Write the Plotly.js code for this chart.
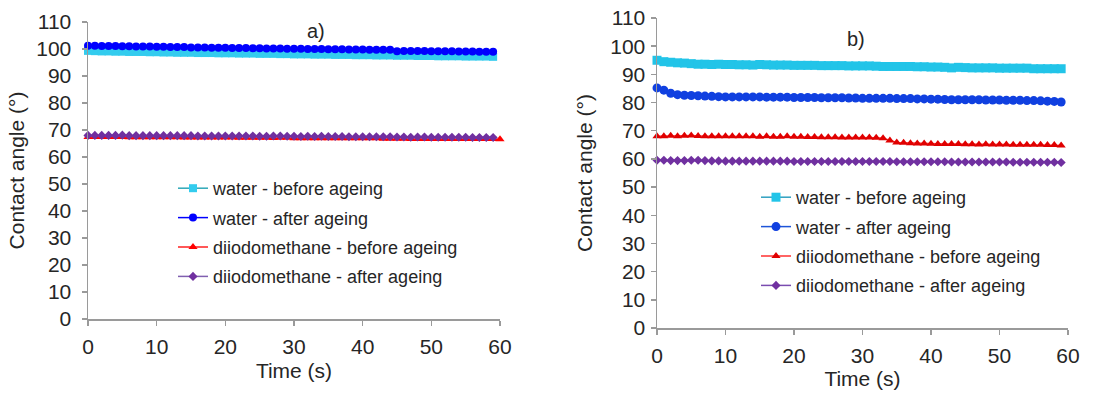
<!DOCTYPE html>
<html>
<head>
<meta charset="utf-8">
<script src="https://cdn.plot.ly/plotly-3.0.1.min.js"></script>
<style>html,body{margin:0;padding:0;background:#fff;}#chart{width:1120px;height:394px;}</style>
</head>
<body>
<div id="chart"></div>
<script>
// ---- data ----
const seriesNames = ["water - before ageing", "water - after ageing", "diiodomethane - before ageing", "diiodomethane - after ageing"];
const panelLabels = ["a)", "b)"];
const xTitle = "Time (s)";
const yTitle = "Contact angle (°)";
const xTicks = [0, 10, 20, 30, 40, 50, 60];
const yTicks = [0, 10, 20, 30, 40, 50, 60, 70, 80, 90, 100, 110];

const time60 = [0,1,2,3,4,5,6,7,8,9,10,11,12,13,14,15,16,17,18,19,20,21,22,23,24,25,26,27,28,29,30,31,32,33,34,35,36,37,38,39,40,41,42,43,44,45,46,47,48,49,50,51,52,53,54,55,56,57,58,59];
const time61 = [0,1,2,3,4,5,6,7,8,9,10,11,12,13,14,15,16,17,18,19,20,21,22,23,24,25,26,27,28,29,30,31,32,33,34,35,36,37,38,39,40,41,42,43,44,45,46,47,48,49,50,51,52,53,54,55,56,57,58,59,60];

// Panel a
const aWaterBefore = [99.3,99.2,99.1,99.1,99.0,99.0, 98.9,98.9,98.9,98.8,98.8,98.7, 98.7,98.6,98.6,98.6,98.5,98.5, 98.5,98.4,98.4,98.4,98.3,98.3, 98.3,98.2,98.2,98.2,98.1,98.1, 98.0,98.0,98.0,97.9,97.9,97.9, 97.8,97.8,97.8,97.7,97.7,97.7, 97.6,97.6,97.6,97.5,97.5,97.5, 97.4,97.4,97.4,97.3,97.3,97.3, 97.3,97.2,97.2,97.2,97.2,97.1];
const aWaterAfter = [101.2,101.2,101.1,101.1,101.1,101.0, 101.0,100.9,100.9,100.9,100.8,100.8, 100.7,100.7,100.7,100.6,100.6,100.6, 100.5,100.5,100.5,100.4,100.4,100.4, 100.3,100.3,100.2,100.2,100.2,100.1, 100.1,100.1,100.0,100.0,100.0,99.9, 99.9,99.9,99.8,99.8,99.8,99.7, 99.7,99.7,99.7,99.2,99.3,99.3, 99.3,99.3,99.2,99.2,99.2,99.2, 99.1,99.1,99.1,99.0,99.0,99.0];
const aDiioBefore = [67.4,67.4,67.4,67.4,67.4,67.4,67.3,67.3,67.3,67.3, 67.3,67.3,67.3,67.3,67.2,67.2,67.2,67.2,67.2,67.2, 67.2,67.2,67.1,67.1,67.1,67.1,67.1,67.0,67.1,67.1, 66.9,66.9,66.9,66.9,66.9,66.9,66.9,66.9,66.9,66.9, 66.9,66.9,66.9,66.8,66.8,66.8,66.8,66.7,66.7,66.7, 66.7,66.7,66.7,66.7,66.7,66.7,66.7,66.7,66.7,66.7,66.6];
const aDiioAfter = [68.0,68.0,68.0,68.0,68.0,68.1,67.9,67.9,67.9,67.9, 67.9,67.9,67.9,67.9,67.9,67.9,67.8,67.8,67.8,67.8, 67.8,67.8,67.8,67.8,67.8,67.7,67.7,67.8,67.8,67.7, 67.7,67.6,67.7,67.6,67.7,67.6,67.6,67.6,67.5,67.5, 67.5,67.5,67.5,67.5,67.5,67.4,67.4,67.3,67.4,67.4, 67.3,67.3,67.3,67.3,67.3,67.3,67.2,67.2,67.2,67.2];

// Panel b
const bWaterBefore = [95.0,94.5,94.3,94.1,94.0,93.8,93.6,93.6,93.5,93.6, 93.5,93.5,93.4,93.4,93.3,93.5,93.4,93.3,93.3,93.3, 93.2,93.2,93.2,93.2,93.1,93.1,93.1,93.1,93.0,93.0, 93.0,93.0,92.9,92.8,92.8,92.8,92.8,92.8,92.7,92.7, 92.6,92.6,92.5,92.3,92.5,92.4,92.3,92.3,92.3,92.3, 92.2,92.2,92.2,92.2,92.2,92.0,92.0,92.0,92.0,92.0];
const bWaterAfter = [85.2,84.4,83.3,82.8,82.6,82.5,82.4,82.3,82.2,82.1, 82.0,82.0,82.0,82.0,82.0,82.0,81.9,81.9,81.9,81.9, 81.8,81.8,81.8,81.8,81.7,81.7,81.7,81.7,81.6,81.6, 81.5,81.5,81.5,81.5,81.5,81.4,81.4,81.4,81.3,81.3, 81.2,81.2,81.1,81.0,81.0,81.0,81.0,81.0,80.9,80.9, 80.9,80.8,80.8,80.8,80.7,80.7,80.6,80.5,80.4,80.2];
const bDiioBefore = [68.0,68.0,68.2,68.0,68.2,68.3,68.1,68.0,68.0,68.0, 68.0,68.0,68.0,68.0,68.0,67.9,68.0,67.9,67.9,68.0, 67.9,67.9,67.8,67.8,67.7,67.7,67.7,67.6,67.6,67.6, 67.6,67.6,67.5,67.3,66.5,65.8,65.7,65.6,65.5,65.5, 65.4,65.3,65.3,65.3,65.3,65.2,65.2,65.1,65.2,65.1, 65.1,65.1,65.0,65.0,65.0,65.0,65.0,64.9,64.9,64.8];
const bDiioAfter = [59.5,59.5,59.4,59.4,59.4,59.5,59.5,59.4,59.3,59.3, 59.2,59.2,59.2,59.2,59.2,59.2,59.2,59.2,59.2,59.2, 59.1,59.1,59.1,59.1,59.1,59.1,59.1,59.1,59.1,59.1, 59.1,59.1,59.1,59.1,59.1,59.0,59.0,59.0,59.0,59.0, 59.0,59.0,59.0,58.9,58.9,58.9,58.9,58.9,58.9,58.9, 58.9,58.9,58.8,58.8,58.8,58.8,58.8,58.8,58.8,58.7];

// ---- styles ----
const FONT = "Liberation Sans, Arial, sans-serif";
const TXT = "#262626";
const W = 1120, H = 394;
function px(x){ return x / W; }
function py(y){ return 1 - y / H; }

const stylesA = [
  {line:"#2fa8b8", marker:"#33ccee", symbol:"square", size:8},
  {line:"#0000ff", marker:"#0000ff", symbol:"circle", size:8},
  {line:"#ff2020", marker:"#ff0000", symbol:"triangle-up", size:8},
  {line:"#8060b0", marker:"#7030a0", symbol:"diamond", size:7}
];
const stylesB = [
  {line:"#30a0c0", marker:"#22c4e8", symbol:"square", size:9},
  {line:"#1e55d8", marker:"#1040e0", symbol:"circle", size:9},
  {line:"#ff3030", marker:"#e00000", symbol:"triangle-up", size:8},
  {line:"#7a4cb0", marker:"#7030a0", symbol:"diamond", size:7}
];

function mk(x, y, i, st, xa, ya, leg){
  return {
    x: x, y: y, name: seriesNames[i], type: "scatter", mode: "lines+markers",
    xaxis: xa, yaxis: ya, legend: leg, legendgroup: leg + i,
    line: {color: st.line, width: 1.5},
    marker: {color: st.marker, symbol: st.symbol, size: st.size, line: {width: 0}},
    cliponaxis: false
  };
}

const traces = [
  mk(time60, aWaterBefore, 0, stylesA[0], "x", "y", "legend"),
  mk(time60, aWaterAfter, 1, stylesA[1], "x", "y", "legend"),
  mk(time61, aDiioBefore, 2, stylesA[2], "x", "y", "legend"),
  mk(time60, aDiioAfter, 3, stylesA[3], "x", "y", "legend"),
  mk(time60, bWaterBefore, 0, stylesB[0], "x2", "y2", "legend2"),
  mk(time60, bWaterAfter, 1, stylesB[1], "x2", "y2", "legend2"),
  mk(time60, bDiioBefore, 2, stylesB[2], "x2", "y2", "legend2"),
  mk(time60, bDiioAfter, 3, stylesB[3], "x2", "y2", "legend2")
];

function xax(domain, anchor, lblOff, standoff){
  return {
    domain: domain, anchor: anchor, range: [0, 60], tickvals: xTicks,
    showgrid: false, zeroline: false, showline: true, linecolor: "#9a9a9a", linewidth: 1.5,
    ticks: "outside", ticklen: 5, tickcolor: "#9a9a9a", tickwidth: 1.5,
    ticklabelstandoff: lblOff,
    tickfont: {family: FONT, size: 21, color: TXT},
    title: {text: xTitle, font: {family: FONT, size: 21, color: TXT}, standoff: standoff}
  };
}
function yax(domain, anchor, lblOff, standoff){
  return {
    domain: domain, anchor: anchor, range: [0, 110], tickvals: yTicks,
    showgrid: false, zeroline: false, showline: true, linecolor: "#9a9a9a", linewidth: 1.5,
    ticks: "outside", ticklen: 5, tickcolor: "#9a9a9a", tickwidth: 1.5,
    ticklabelstandoff: lblOff,
    tickfont: {family: FONT, size: 21, color: TXT},
    title: {text: yTitle, font: {family: FONT, size: 21, color: TXT}, standoff: standoff}
  };
}

function legendCfg(x, y){
  return {
    x: x, y: y, xanchor: "left", yanchor: "top",
    bgcolor: "rgba(0,0,0,0)", borderwidth: 0,
    font: {family: FONT, size: 18, color: TXT},
    traceorder: "grouped", tracegroupgap: 3, itemwidth: 30
  };
}

const layout = {
  width: W, height: H,
  margin: {l: 0, r: 0, t: 0, b: 0},
  paper_bgcolor: "#ffffff", plot_bgcolor: "#ffffff",
  showlegend: true,
  xaxis: xax([px(88), px(500)], "y", 3, 6),
  yaxis: yax([py(319), py(22)], "x", 6, 6),
  xaxis2: xax([px(657), px(1068)], "y2", 3, 5),
  yaxis2: yax([py(328), py(18)], "x2", 1, 12),
  legend: legendCfg(px(173), py(170)),
  legend2: legendCfg(px(756), py(179)),
  annotations: [
    {text: panelLabels[0], x: px(316), y: py(31), xref: "paper", yref: "paper", showarrow: false, xanchor: "center", yanchor: "middle", font: {family: FONT, size: 20, color: TXT}},
    {text: panelLabels[1], x: px(856), y: py(39), xref: "paper", yref: "paper", showarrow: false, xanchor: "center", yanchor: "middle", font: {family: FONT, size: 20, color: TXT}}
  ]
};

Plotly.newPlot("chart", traces, layout, {displayModeBar: false, staticPlot: true});
</script>
</body>
</html>
